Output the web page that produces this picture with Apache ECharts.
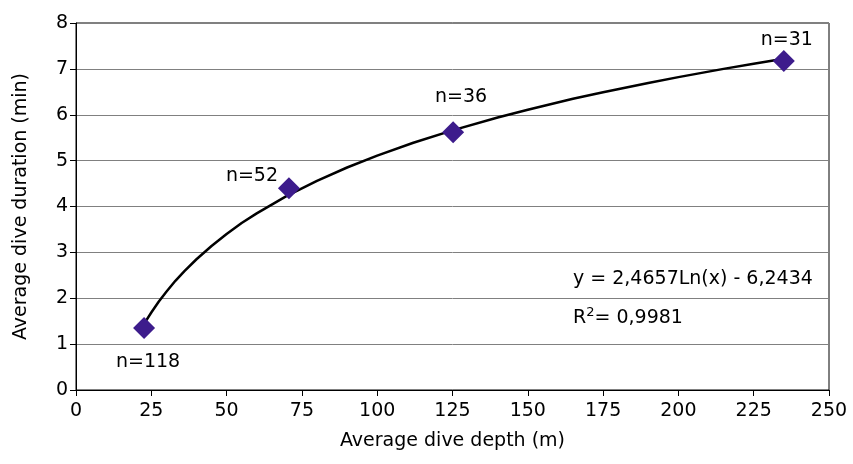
<!DOCTYPE html>
<html>
<head>
<meta charset="utf-8">
<script src="https://cdn.jsdelivr.net/npm/echarts@6/dist/echarts.min.js"></script>
<style>
  html, body { margin: 0; padding: 0; background: #fff; }
  #chart { width: 853px; height: 464px; }
</style>
</head>
<body>
<div id="chart"></div>
<script>
// observed dives
const depth = [22.6, 70.7, 125.2, 235];
const duration = [1.35, 4.4, 5.62, 7.17];
const sampleLabels = ["n=118", "n=52", "n=36", "n=31"];

// logarithmic trend line
const trendX = [22.6, 25, 27.5, 30, 33, 36, 40, 45, 50, 55, 60, 70, 80, 90, 100, 112, 125, 140, 150, 165, 175, 190, 200, 215, 225, 236];
const trendY = [1.44, 1.69, 1.93, 2.14, 2.38, 2.59, 2.85, 3.14, 3.40, 3.64, 3.85, 4.23, 4.56, 4.85, 5.11, 5.39, 5.66, 5.94, 6.11, 6.35, 6.49, 6.69, 6.82, 7.00, 7.11, 7.23];

const xTicks = [0, 25, 50, 75, 100, 125, 150, 175, 200, 225, 250];

const chart = echarts.init(document.getElementById("chart"));

// where each n= label sits relative to its point
const labelOffset = [[4, 34], [-37, -12], [8, -35], [3, -21]];

const font = "DejaVu Sans, sans-serif";
const fs = 19;

chart.setOption({
  animation: false,
  grid: {
    left: 76,
    right: 24,
    top: 23,
    bottom: 74,
    show: true,
    borderColor: "#000",
    borderWidth: 1
  },
  xAxis: {
    type: "value",
    min: 0,
    max: 250,
    interval: 25,
    name: "Average dive depth (m)",
    nameLocation: "center",
    nameGap: 42,
    nameTextStyle: { fontFamily: font, fontSize: fs, color: "#000" },
    axisLine: { show: true, onZero: false, lineStyle: { color: "#000", width: 1 } },
    axisTick: { show: true, length: 6, lineStyle: { color: "#000" } },
    axisLabel: {
      fontFamily: font, fontSize: fs, color: "#000", margin: 12,
      formatter: function (v) { return xTicks.indexOf(v) >= 0 ? String(v) : ""; }
    },
    splitLine: { show: false }
  },
  yAxis: {
    type: "value",
    min: 0,
    max: 8,
    interval: 1,
    name: "Average dive duration (min)",
    nameLocation: "center",
    nameGap: 45,
    nameTextStyle: { fontFamily: font, fontSize: fs, color: "#000" },
    axisLine: { show: true, onZero: false, lineStyle: { color: "#000", width: 1 } },
    axisTick: { show: true, length: 6, lineStyle: { color: "#000" } },
    axisLabel: { fontFamily: font, fontSize: fs, color: "#000", margin: 8 },
    splitLine: { show: true, lineStyle: { color: "#808080", width: 1 } }
  },
  series: [
    {
      type: "line",
      data: trendX.map(function (x, i) { return [x, trendY[i]]; }),
      showSymbol: false,
      lineStyle: { color: "#000", width: 2.5 },
      z: 3
    },
    {
      type: "scatter",
      symbol: "diamond",
      symbolSize: [22, 22],
      itemStyle: { color: "#3d1c8c", opacity: 1 },
      z: 4,
      data: depth.map(function (x, i) {
        return {
          value: [x, duration[i]],
          label: {
            show: true,
            formatter: sampleLabels[i],
            position: "inside",
            offset: labelOffset[i],
            fontFamily: font,
            fontSize: fs,
            color: "#000"
          }
        };
      })
    }
  ],
  graphic: [
    {
      type: "text",
      left: 573,
      top: 270,
      style: {
        text: "y = 2,4657Ln(x) - 6,2434",
        fontFamily: font,
        fontSize: fs,
        fill: "#000"
      },
      z: 12
    },
    {
      type: "text",
      left: 573,
      top: 306,
      style: {
        text: "{b|R}{s|2}{b|= 0,9981}",
        rich: {
          b: { fontFamily: font, fontSize: fs, fill: "#000", verticalAlign: "bottom" },
          s: { fontFamily: font, fontSize: 13, fill: "#000", verticalAlign: "top", padding: [0, 0, 9, 0] }
        }
      },
      z: 12
    }
  ]
});
</script>
</body>
</html>
